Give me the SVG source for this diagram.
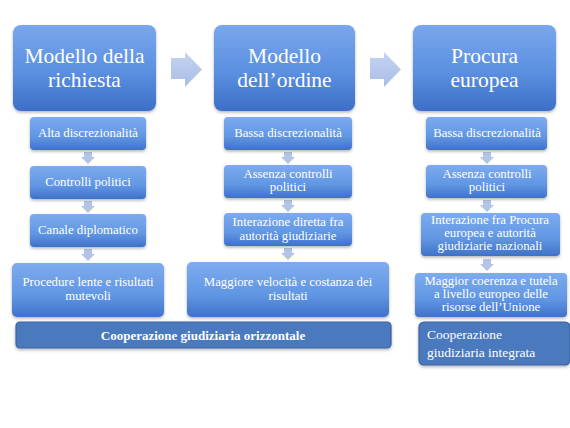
<svg xmlns="http://www.w3.org/2000/svg" width="570" height="428" viewBox="0 0 570 428">
<defs>
<linearGradient id="gTop" x1="0" y1="0" x2="0" y2="1">
<stop offset="0" stop-color="#79a7ec"/>
<stop offset="0.55" stop-color="#5b8fe0"/>
<stop offset="1" stop-color="#3c6fc6"/>
</linearGradient>
<linearGradient id="gSub" x1="0" y1="0" x2="0" y2="1">
<stop offset="0" stop-color="#7dabee"/>
<stop offset="0.6" stop-color="#6196e3"/>
<stop offset="1" stop-color="#3f72c8"/>
</linearGradient>
<linearGradient id="gArr" x1="0" y1="0" x2="0" y2="1">
<stop offset="0" stop-color="#c4d3f0"/>
<stop offset="1" stop-color="#a9bde6"/>
</linearGradient>
<filter id="sh" x="-10%" y="-10%" width="120%" height="130%">
<feDropShadow dx="0" dy="1.5" stdDeviation="1.5" flood-color="#000" flood-opacity="0.3"/>
</filter>
</defs>
<style>
.top{fill:url(#gTop);filter:url(#sh)}
.sub{fill:url(#gSub);filter:url(#sh)}
.bar{fill:#4b79bd;stroke:#3a62a2;stroke-width:1.2;filter:url(#sh)}
.arr{fill:url(#gArr)}
.dn{fill:#b3c4e6}
text{fill:#ffffff;text-anchor:middle;font-family:'Liberation Serif','Times New Roman',serif}
.t1{font-size:21.5px}
.t2{font-size:12.8px}
.t3{font-size:13px;font-weight:bold}
.t4{font-size:13.5px;text-anchor:start}
</style>
<rect width="570" height="428" fill="#ffffff"/>

<g id="connectors">
<path class="arr" d="M171,58 H185 V52 L202,69.5 L185,87 V79 H171 Z"/>
<path class="arr" d="M370,58 H384 V52 L401,69.5 L384,87 V79 H370 Z"/>
<path class="dn" d="M84,152 H92 V157 H95 L88,164 L81,157 H84 Z"/>
<path class="dn" d="M84,201 H92 V206 H95 L88,213 L81,206 H84 Z"/>
<path class="dn" d="M84,249 H92 V254 H95 L88,261 L81,254 H84 Z"/>
<path class="dn" d="M284,152 H292 V157 H295 L288,164 L281,157 H284 Z"/>
<path class="dn" d="M284,200 H292 V205 H295 L288,212 L281,205 H284 Z"/>
<path class="dn" d="M284,248 H292 V253 H295 L288,260 L281,253 H284 Z"/>
<path class="dn" d="M483,152 H491 V157 H494 L487,164 L480,157 H483 Z"/>
<path class="dn" d="M483,200 H491 V205 H494 L487,212 L480,205 H483 Z"/>
<path class="dn" d="M483,259 H491 V264 H494 L487,271 L480,264 H483 Z"/>
</g>

<g id="n-richiesta"><rect class="top" x="13" y="25" width="143" height="86" rx="8"/>
<text class="t1" x="84.5" y="63">Modello della</text><text class="t1" x="84.5" y="87">richiesta</text></g>
<g id="n-ordine"><rect class="top" x="214" y="25" width="141" height="86" rx="8"/>
<text class="t1" x="284.5" y="63">Modello</text><text class="t1" x="284.5" y="87">dell’ordine</text></g>
<g id="n-procura"><rect class="top" x="413" y="25" width="143" height="86" rx="8"/>
<text class="t1" x="484.5" y="63">Procura</text><text class="t1" x="484.5" y="87">europea</text></g>

<g id="n-c1a"><rect class="sub" x="30" y="117" width="116" height="33" rx="4"/>
<text class="t2" x="88" y="137">Alta discrezionalità</text></g>
<g id="n-c1b"><rect class="sub" x="30" y="166" width="116" height="33" rx="4"/>
<text class="t2" x="88" y="186">Controlli politici</text></g>
<g id="n-c1c"><rect class="sub" x="30" y="214" width="116" height="33" rx="4"/>
<text class="t2" x="88" y="234">Canale diplomatico</text></g>
<g id="n-c1d"><rect class="sub" x="12" y="263" width="152" height="54" rx="5"/>
<text class="t2" x="88" y="286">Procedure lente e risultati</text><text class="t2" x="88" y="300">mutevoli</text></g>

<g id="n-c2a"><rect class="sub" x="224" y="117" width="128" height="33" rx="4"/>
<text class="t2" x="288" y="137">Bassa discrezionalità</text></g>
<g id="n-c2b"><rect class="sub" x="224" y="165" width="128" height="33" rx="4"/>
<text class="t2" x="288" y="178">Assenza controlli</text><text class="t2" x="288" y="191">politici</text></g>
<g id="n-c2c"><rect class="sub" x="224" y="213" width="128" height="33" rx="4"/>
<text class="t2" x="288" y="226">Interazione diretta fra</text><text class="t2" x="288" y="240">autorità giudiziarie</text></g>
<g id="n-c2d"><rect class="sub" x="187" y="262" width="202" height="55" rx="5"/>
<text class="t2" x="288" y="286">Maggiore velocità  e costanza dei</text><text class="t2" x="288" y="300">risultati</text></g>

<g id="n-c3a"><rect class="sub" x="426" y="117" width="121" height="33" rx="4"/>
<text class="t2" x="487" y="137">Bassa discrezionalità</text></g>
<g id="n-c3b"><rect class="sub" x="426" y="165" width="121" height="33" rx="4"/>
<text class="t2" x="487" y="178">Assenza controlli</text><text class="t2" x="487" y="191">politici</text></g>
<g id="n-c3c"><rect class="sub" x="421" y="213" width="139" height="43" rx="4"/>
<text class="t2" x="490" y="224">Interazione fra Procura</text><text class="t2" x="490" y="237">europea e autorità</text><text class="t2" x="490" y="250">giudiziarie nazionali</text></g>
<g id="n-c3d"><rect class="sub" x="415" y="273" width="152" height="44" rx="4"/>
<text class="t2" x="491" y="285">Maggior coerenza e tutela</text><text class="t2" x="491" y="298">a livello europeo delle</text><text class="t2" x="491" y="311">risorse dell’Unione</text></g>

<g id="n-orizzontale"><rect class="bar" x="16" y="322" width="375" height="26" rx="4"/>
<text class="t3" x="203" y="340">Cooperazione giudiziaria orizzontale</text></g>
<g id="n-integrata"><rect class="bar" x="419" y="322" width="151" height="43" rx="5"/>
<text class="t4" x="427" y="339">Cooperazione</text><text class="t4" x="427" y="357">giudiziaria integrata</text></g>
</svg>
